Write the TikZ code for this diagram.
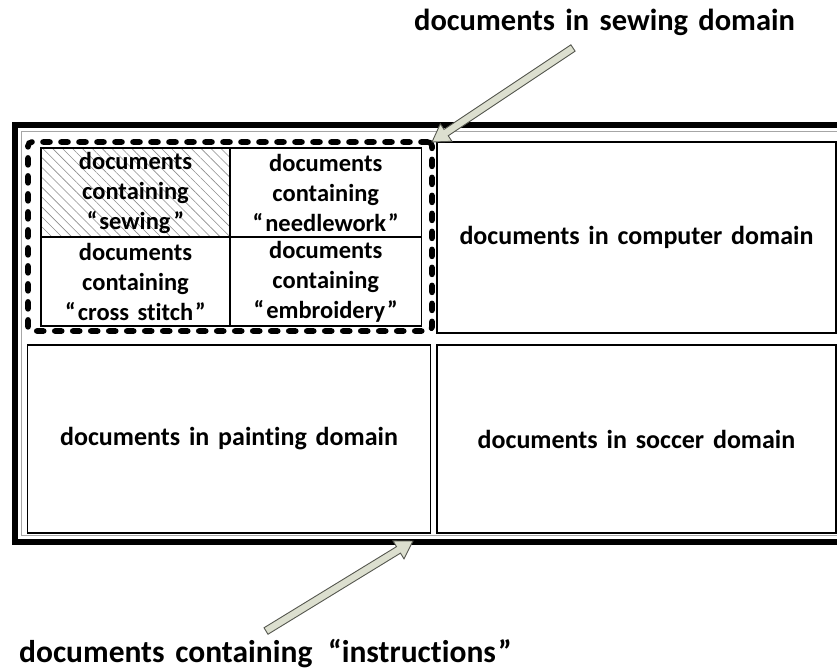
\documentclass[tikz,border=0pt]{standalone}
\usepackage{fontspec}
\setmainfont{Carlito}[WordSpace=1.5, Ligatures={NoCommon}]
\usetikzlibrary{calc,patterns.meta}
\definecolor{arrowfill}{HTML}{DCDFCF}
\definecolor{arrowline}{HTML}{55574F}
\definecolor{hatchgray}{HTML}{8C8C8C}

% hollow block arrow from tail #1 to tip #2
\newcommand\blockarrow[2]{%
  \filldraw[blockarrowstyle] let \p1=($(#2)-(#1)$), \n1={atan2(\y1,\x1)}, \n2={veclen(\x1,\y1)} in
    ($(#1)+(\n1+90:3.8pt)$)
    -- ($(#1)+(\n1:\n2-17pt)+(\n1+90:3.8pt)$)
    -- ($(#1)+(\n1:\n2-17pt)+(\n1+90:10.5pt)$)
    -- (#2)
    -- ($(#1)+(\n1:\n2-17pt)+(\n1-90:10.5pt)$)
    -- ($(#1)+(\n1:\n2-17pt)+(\n1-90:3.8pt)$)
    -- ($(#1)+(\n1-90:3.8pt)$) -- cycle;}

\begin{document}
\begin{tikzpicture}[x=1pt,y=-1pt,
  cell/.style={draw=black, line width=1.2pt, outer sep=0pt, inner sep=0pt,
    align=center, font=\fontsize{24.5}{30}\selectfont\bfseries},
  domainbox/.style={draw=black, line width=1.3pt, outer sep=0pt, inner sep=0pt,
    align=center, font=\fontsize{26}{30}\selectfont\bfseries},
  sewdomstyle/.style={draw=black, line width=5.6pt, line cap=round,
    dash pattern=on 7pt off 11pt, rounded corners=4pt, outer sep=0pt, inner sep=0pt},
  blockarrowstyle/.style={fill=arrowfill, draw=arrowline, line width=0.9pt, line join=miter},
  toplabel/.style={font=\fontsize{30.5}{33}\selectfont\bfseries, inner sep=0pt},
  botlabel/.style={font=\fontsize{31.5}{34}\selectfont\bfseries, inner sep=0pt}]

\useasboundingbox (0,0) rectangle (837,670);
\clip (0,0) rectangle (837,670);

% outer frame: thick rule with a thin inner rule
\draw[line width=6pt] (15,125) rectangle (880,541.5);
\draw[line width=0.6pt, gray!70] (21.5,131.2) rectangle (880,535.4);

% four term cells
\node[cell, minimum width=189pt, minimum height=89pt,
  pattern={Lines[angle=-45, distance=7pt, line width=0.6pt]}, pattern color=hatchgray]
  (sew) at (135.5,192.5) {documents\\containing\\“\kern2pt sewing\kern3pt”};
\node[cell, minimum width=191.5pt, minimum height=89pt]
  (needle) at (325.75,192.5) {documents\\containing\\“\kern2pt needlework\kern2pt”};
\node[cell, minimum width=189pt, minimum height=89pt]
  (cross) at (135.5,281.5) {documents\\containing\\“\kern2pt cross stitch\kern2pt”};
\node[cell, minimum width=191.5pt, minimum height=89pt]
  (embroid) at (325.75,281.5) {documents\\containing\\“\kern2pt embroidery\kern2pt”};

% domain boxes
\node[domainbox, minimum width=399pt, minimum height=191pt]
  (computer) at (636.5,237.5) {documents in computer domain};
\node[domainbox, minimum width=403pt, minimum height=188pt]
  (painting) at (229,439) {documents in painting domain};
\node[domainbox, minimum width=399pt, minimum height=188pt]
  (soccer) at (636.5,439) {documents in soccer domain};

% sewing domain boundary
\node[sewdomstyle, minimum width=404pt, minimum height=189pt] (sewdom) at (230,236.5) {};

% labels
\node[toplabel, anchor=base west] (sewlbl) at (414,30) {documents in sewing domain};
\node[botlabel, anchor=base west] (instrlbl) at (19,662)
  {documents containing \kern5pt“instructions\kern2pt”};

% pointer arrows
\coordinate (sewtail) at (573,48);
\coordinate (instrtail) at (266,631);
\coordinate (instrtip) at (413,541);
\blockarrow{sewtail}{sewdom.north east}
\blockarrow{instrtail}{instrtip}
\end{tikzpicture}
\end{document}
